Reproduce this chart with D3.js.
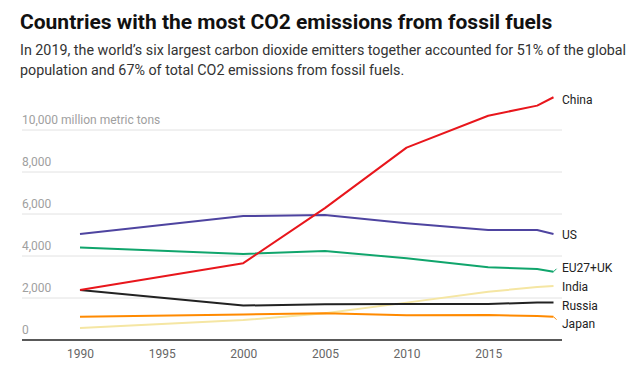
<!DOCTYPE html>
<html><head><meta charset="utf-8">
<script src="https://cdn.jsdelivr.net/npm/d3@7"></script>
<style>
body{margin:0;background:#fff;font-family:Roboto,"Noto Sans",sans-serif;}
svg text{font-family:Roboto,"Noto Sans",sans-serif;}
</style></head><body>
<svg id="c" width="629" height="367"></svg>
<script>
const years = [1990, 2000, 2005, 2010, 2015, 2018, 2019];
const china = [2380, 3660, 6280, 9160, 10680, 11160, 11560];
const us = [5050, 5900, 5950, 5560, 5240, 5240, 5050];
const eu = [4400, 4100, 4240, 3890, 3460, 3380, 3250];
const india = [570, 950, 1270, 1780, 2300, 2520, 2570];
const russia = [2380, 1640, 1700, 1710, 1710, 1790, 1790];
const japan = [1110, 1220, 1270, 1180, 1190, 1140, 1110];
const seriesNames = ["China", "US", "EU27+UK", "India", "Russia", "Japan"];
const seriesColors = ["#e8161c", "#4e44a0", "#10a56c", "#f5e6a3", "#222222", "#ff8a00"];
const seriesValues = [china, us, eu, india, russia, japan];
const hasConnector = [false, false, true, false, false, true];
const yTicks = [0, 2000, 4000, 6000, 8000, 10000];
const xTicks = [1990, 1995, 2000, 2005, 2010, 2015];

const svg = d3.select("#c");
svg.append("text").attr("x", 20).attr("y", 29).attr("font-size", 21).attr("font-weight", 700)
  .attr("fill", "#111").text("Countries with the most CO2 emissions from fossil fuels");
svg.append("text").attr("x", 20).attr("y", 55).attr("font-size", 14.3).attr("fill", "#333")
  .text("In 2019, the world’s six largest carbon dioxide emitters together accounted for 51% of the global");
svg.append("text").attr("x", 20).attr("y", 75).attr("font-size", 14.3).attr("fill", "#333")
  .text("population and 67% of total CO2 emissions from fossil fuels.");

const left = 22, right = 562;
const x = d3.scaleLinear().domain([1990, 2019]).range([80, 553.5]);
const y = d3.scaleLinear().domain([0, 10000]).range([340, 130]);

const grid = svg.append("g");
yTicks.forEach(t => {
  if (t > 0) grid.append("line").attr("x1", left).attr("x2", right).attr("y1", y(t)).attr("y2", y(t))
    .attr("stroke", "#e2e2e2").attr("stroke-width", 1);
  grid.append("text").attr("x", left).attr("y", y(t) - 6).attr("font-size", 12).attr("fill", "#a0a0a0")
    .text(t === 10000 ? d3.format(",")(t) + " million metric tons" : d3.format(",")(t));
});

const xAxis = d3.axisBottom(x).tickValues(xTicks).tickFormat(d3.format("d")).tickSize(0).tickPadding(9);
const gx = svg.append("g").attr("transform", `translate(0,${y(0)})`).call(xAxis);
gx.select(".domain").remove();
gx.selectAll("text").attr("font-size", 12).attr("fill", "#666");
svg.append("line").attr("x1", left).attr("x2", right).attr("y1", y(0)).attr("y2", y(0))
  .attr("stroke", "#222").attr("stroke-width", 1.3);

const line = d3.line().x((d, i) => x(years[i])).y(d => y(d));
const order = [3, 5, 4, 2, 1, 0];
order.forEach(k => {
  svg.append("path").datum(seriesValues[k]).attr("d", line).attr("fill", "none")
    .attr("stroke", seriesColors[k]).attr("stroke-width", 2).attr("stroke-linejoin", "round");
});

const labelY = [100, 235, 268, 287, 306, 324];
seriesNames.forEach((n, k) => {
  const vEnd = seriesValues[k][seriesValues[k].length - 1];
  const ye = y(vEnd);
  if (hasConnector[k]) {
    svg.append("line").attr("x1", x(2019)).attr("y1", ye).attr("x2", x(2019) + 3)
      .attr("y2", ye + Math.sign(labelY[k] - ye) * 3)
      .attr("stroke", seriesColors[k]).attr("stroke-width", 1);
  }
  svg.append("text").attr("x", 562).attr("y", labelY[k] + 4).attr("font-size", 12).attr("fill", "#222").text(n);
});
</script></body></html>
